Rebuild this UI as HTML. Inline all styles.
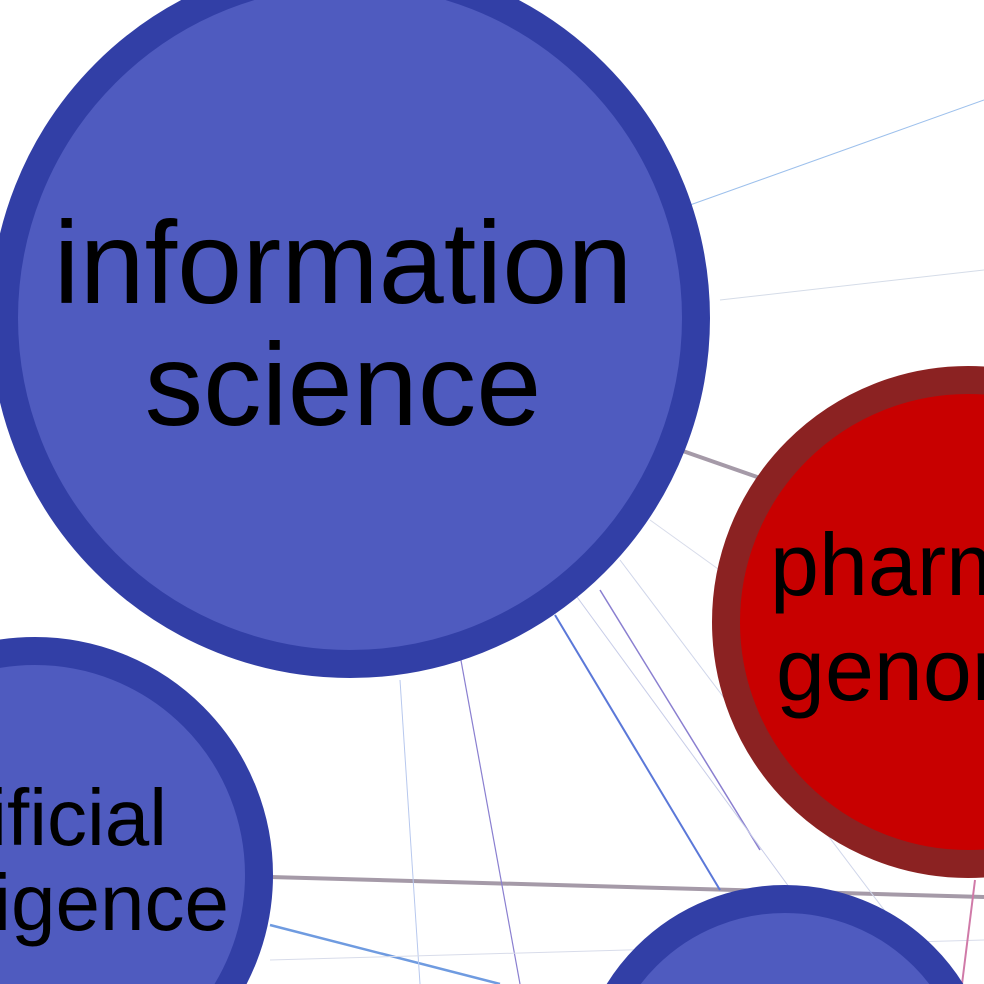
<!DOCTYPE html>
<html><head><meta charset="utf-8"><style>
html,body{margin:0;padding:0;background:#fff;width:984px;height:984px;overflow:hidden}
svg{display:block;overflow:hidden}
text{font-family:"Liberation Sans",sans-serif;fill:#000}
</style></head><body>
<svg id="net" width="984" height="984" viewBox="0 0 984 984">
<g id="edges"></g>
<g id="nodes"></g>
</svg>
<script>
const nodeNames=["information-science","pharmacogenomics","artificial-intelligence","bottom-node"];
const nodeX=[350,968,35,785];
const nodeY=[318,622,875,1095];
const nodeR=[360,256,238,210];
const nodeFill=["#4f5bbf","#c80000","#4f5bbf","#4f5bbf"];
const nodeStroke=["#323fa6","#8b2222","#323fa6","#323fa6"];
const nodeLines=[["information","science"],["pharm","genor"],["ificial","ligence"],[]];
const edgeFrom=[[680,450],[270,877],[270,925],[555,615],[600,590],[460,655],[690,205],[720,300],[400,680],[550,560],[620,560],[650,520],[270,960],[975,880]];
const edgeTo=[[760,478],[984,897],[500,984],[720,890],[760,850],[520,984],[984,100],[984,270],[420,984],[860,984],[940,984],[984,760],[984,940],[962,984]];
const edgeColor=["#a59aa8","#a59aa8","#6f9be0","#5b78d8","#8a7fd0","#8a7fd0","#9dc0ec","#d5dce8","#b8c8ee","#c8cde8","#d0d6ea","#d8dcea","#d8dcea","#d07aa8"];
const edgeW=[4,4,2.5,2,1.5,1.2,1,1,1,1,1,1,1,2];
const fontSize=[117,88,80,0];
const lineY=[[303,425],[595,700],[845,930],[]];
const lineX=[[343,343],[770,776],[167,229],[]];
const lineAnchor=["middle","start","end","middle"];
const svgNS="http://www.w3.org/2000/svg";
const eg=document.getElementById('edges'),ng=document.getElementById('nodes');
for(let i=0;i<edgeFrom.length;i++){
  const l=document.createElementNS(svgNS,'line');
  l.setAttribute('x1',edgeFrom[i][0]);l.setAttribute('y1',edgeFrom[i][1]);
  l.setAttribute('x2',edgeTo[i][0]);l.setAttribute('y2',edgeTo[i][1]);
  l.setAttribute('stroke',edgeColor[i]);l.setAttribute('stroke-width',edgeW[i]);
  
  
  eg.appendChild(l);
}
for(let i=0;i<nodeX.length;i++){
  const c=document.createElementNS(svgNS,'circle');
  c.setAttribute('cx',nodeX[i]);c.setAttribute('cy',nodeY[i]);c.setAttribute('r',nodeR[i]-14);
  c.setAttribute('fill',nodeFill[i]);c.setAttribute('stroke',nodeStroke[i]);c.setAttribute('stroke-width',28);
  
  
  ng.appendChild(c);
  for(let j=0;j<nodeLines[i].length;j++){
    const t=document.createElementNS(svgNS,'text');
    t.setAttribute('x',lineX[i][j]);t.setAttribute('y',lineY[i][j]);
    t.setAttribute('font-size',fontSize[i]);
    t.setAttribute('text-anchor',lineAnchor[i]);
    t.textContent=nodeLines[i][j];
    
    
    ng.appendChild(t);
  }
}
</script>
</body></html>
